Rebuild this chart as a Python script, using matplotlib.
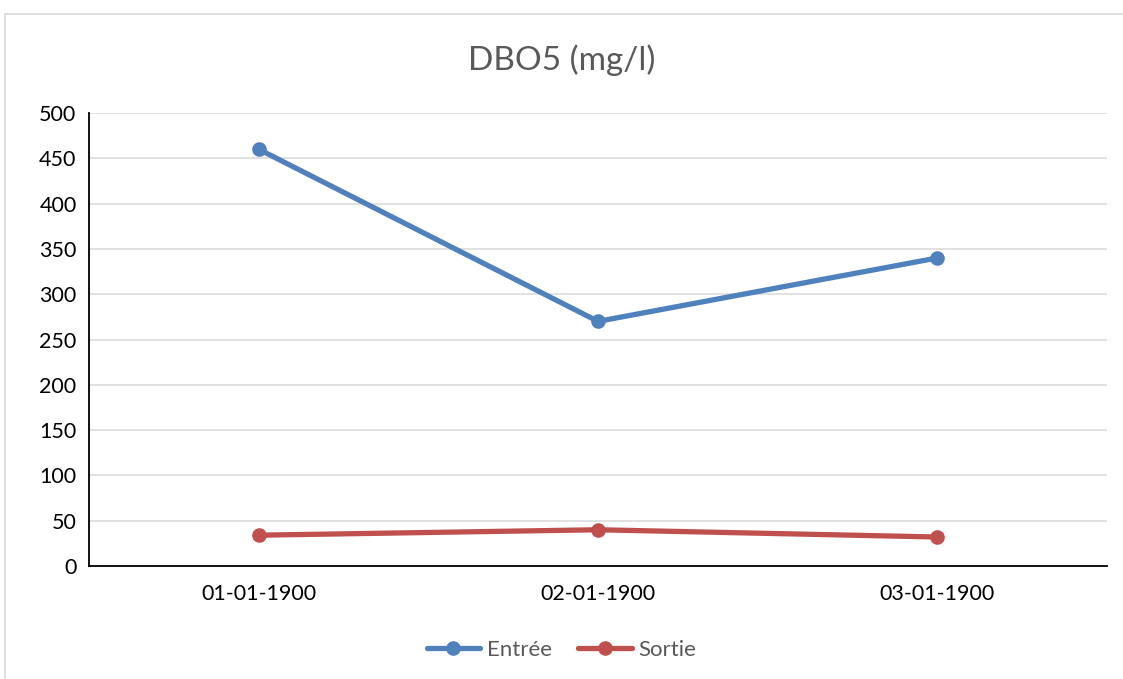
import matplotlib
matplotlib.use("Agg")
from matplotlib import pyplot as plt
from matplotlib.patches import Rectangle

dates = ["01-01-1900", "02-01-1900", "03-01-1900"]
entree = [460, 270, 340]
sortie = [34, 40, 32]
yticks = list(range(0, 501, 50))

plt.rcParams['font.family'] = ['Lato', 'DejaVu Sans']

fig = plt.figure(figsize=(11.23, 6.79), dpi=100)

# light chart-area border
fig.patches.append(Rectangle((4.5/1123, -0.01), 1.2, 1 - 14/679 + 0.01,
                             transform=fig.transFigure, fill=False,
                             edgecolor="#d9d9d9", linewidth=1.2))

ax = fig.add_axes([89/1123, 1 - 566/679, (1107 - 89)/1123, (566 - 113)/679])
x = range(len(dates))
ax.plot(x, entree, color="#4F81BD", lw=3.8, marker="o", ms=9.5,
        solid_capstyle="round", label="Entrée", zorder=3)
ax.plot(x, sortie, color="#C0504D", lw=3.8, marker="o", ms=9.5,
        solid_capstyle="round", label="Sortie", zorder=3)

ax.set_xlim(-0.5, len(dates) - 0.5)
ax.set_ylim(0, 500)
ax.set_yticks(yticks)
ax.set_xticks(list(x))
ax.set_xticklabels(dates)
ax.grid(axis="y", color="#d9d9d9", lw=1.1)
ax.set_axisbelow(True)
for s in ["top", "right"]:
    ax.spines[s].set_visible(False)
for s in ["left", "bottom"]:
    ax.spines[s].set_color("black")
    ax.spines[s].set_linewidth(1.3)
ax.tick_params(length=0, labelsize=15.5, colors="black", pad=9)
ax.tick_params(axis="x", pad=13)

fig.text(0.5, 1 - 60/679, "DBO5 (mg/l)", ha="center", va="center",
         fontsize=24, color="#595959")

leg = fig.legend(loc="center", bbox_to_anchor=(0.5, 1 - 650/679), ncol=2,
                 frameon=False, fontsize=16, handlelength=2.4,
                 columnspacing=1.2, handletextpad=0.3)
for t in leg.get_texts():
    t.set_color("#595959")

fig.savefig("out.png", dpi=100)
